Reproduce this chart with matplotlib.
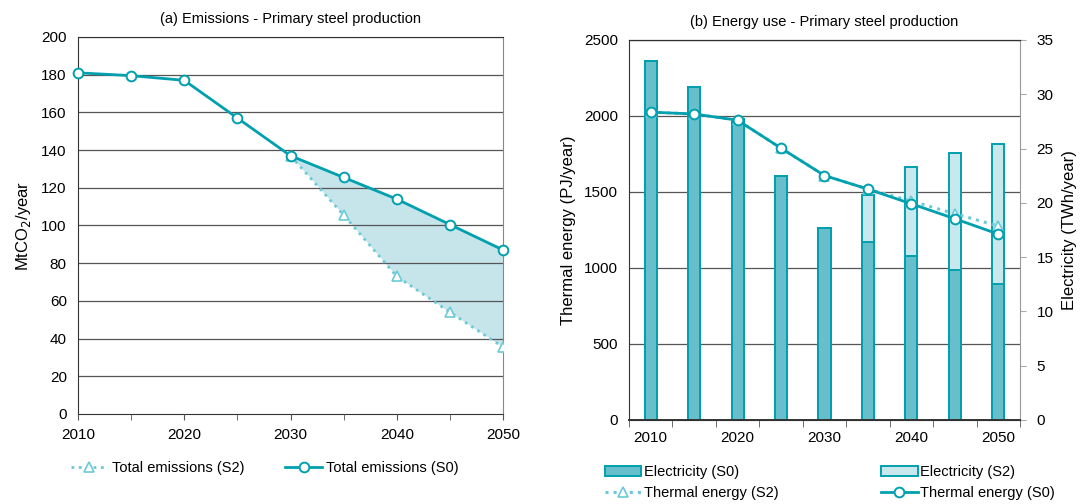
import matplotlib.pyplot as plt
import numpy as np

plt.rcParams['font.family'] = ['Liberation Sans', 'DejaVu Sans']

years = [2010, 2015, 2020, 2025, 2030, 2035, 2040, 2045, 2050]

# (a) emissions, MtCO2/year
emis_s0 = [181, 179.5, 177, 157, 137, 125.5, 114, 100.5, 87]
years_s2 = [2030, 2035, 2040, 2045, 2050]
emis_s2 = [137, 105.5, 73, 54, 35.5]

# (b) thermal energy, PJ/year
therm_s0 = [2025, 2013, 1972, 1788, 1608, 1519, 1422, 1324, 1223]
therm_s2 = [2025, 2013, 1972, 1788, 1608, 1519, 1440, 1357, 1276]
# electricity, TWh/year
elec_s0 = [33.1, 30.7, 27.7, 22.5, 17.7, 16.4, 15.1, 13.8, 12.5]
elec_s2 = [33.1, 30.7, 27.7, 22.5, 17.7, 20.7, 23.3, 24.6, 25.4]

dark = '#00a0ae'
light = '#6ccad6'
bar_s0 = '#66bfcb'
bar_s2 = '#c8e8ee'
fillc = '#c5e5eb'
gridc = '#555555'

fig = plt.figure(figsize=(10.83, 5.04), dpi=100)

############## (a) Emissions ##############
ax = fig.add_axes([0.072, 0.1786, 0.3925, 0.748])
ax.fill_between(years_s2, emis_s2, emis_s0[4:], color=fillc, lw=0, zorder=1)
ax.set_axisbelow(False)
for v in range(20, 201, 20):
    ax.axhline(v, color=gridc, lw=0.9, zorder=1.5)
ax.plot(years_s2, emis_s2, color=light, ls=':', lw=2, marker='^', ms=7,
        mfc='white', mec=light, mew=1.2, zorder=3, label='Total emissions (S2)')
ax.plot(years, emis_s0, color=dark, lw=2, marker='o', ms=7,
        mfc='white', mec=dark, mew=1.4, zorder=4, label='Total emissions (S0)', clip_on=False)
ax.set_xlim(2010, 2050)
ax.set_ylim(0, 200)
ax.set_yticks(range(0, 201, 20))
ax.set_xticks(range(2010, 2051, 10))
ax.set_xticks(range(2010, 2051, 5), minor=True)
ax.tick_params(axis='y', length=0, labelsize=11, pad=8)
ax.tick_params(axis='x', which='both', length=4, color=gridc, labelsize=11, pad=6, direction='out')
for s in ['left', 'bottom']:
    ax.spines[s].set_color('#333333')
ax.spines['right'].set_color('#888888')
ax.spines['top'].set_color('#333333')
ax.set_ylabel('MtCO$_2$/year', fontsize=12, labelpad=6)
ax.set_title('(a) Emissions - Primary steel production', fontsize=10.5, pad=10)
ax.legend(loc='upper center', bbox_to_anchor=(0.44, -0.09), ncol=2, frameon=False,
          fontsize=10.5, handlelength=2.5, columnspacing=2.8, handletextpad=0.3)

############## (b) Energy use ##############
bx = fig.add_axes([0.5808, 0.1667, 0.361, 0.754])
bx2 = bx.twinx()
# lines on bx drawn above bars on bx2
bx.set_zorder(bx2.get_zorder() + 1)
bx.patch.set_visible(False)

for v in range(500, 2501, 500):
    bx2.axhline(v * 35 / 2500, color=gridc, lw=0.9, zorder=0.5)
bx2.bar(years, elec_s2, width=1.4, color=bar_s2, edgecolor=dark, lw=1.4, zorder=2,
        label='Electricity (S2)')
bx2.bar(years, elec_s0, width=1.4, color=bar_s0, edgecolor=dark, lw=1.4, zorder=3,
        label='Electricity (S0)')

bx.plot(years, therm_s2, color=light, ls=':', lw=2.2, marker='^', ms=7,
        mfc='white', mec=light, mew=1.2, zorder=3, label='Thermal energy (S2)')
bx.plot(years, therm_s0, color=dark, lw=2, marker='o', ms=7,
        mfc='white', mec=dark, mew=1.4, zorder=4, label='Thermal energy (S0)')

bx.set_xlim(2007.5, 2052.5)
bx.set_ylim(0, 2500)
bx2.set_ylim(0, 35)
bx.set_yticks(range(0, 2501, 500))
bx2.set_yticks(range(0, 36, 5))
bx.set_xticks(range(2010, 2051, 10))
bx.set_xticks(np.arange(2007.5, 2053, 5), minor=True)
bx.tick_params(axis='x', which='major', length=0, labelsize=11, pad=8)
bx.tick_params(axis='x', which='minor', length=5, color=gridc, direction='out')
bx.tick_params(axis='y', length=0, labelsize=11, pad=8)
bx2.tick_params(axis='y', length=4, color='#aaaaaa', labelsize=11, pad=8)
bx2.spines['right'].set_color('#999999')
bx.spines['right'].set_visible(False)
bx.spines['left'].set_color('#333333')
bx.spines['bottom'].set_color('#333333')
bx.spines['bottom'].set_linewidth(1.4)
bx.spines['top'].set_color('#333333')
bx2.spines['left'].set_visible(False)
bx.set_ylabel('Thermal energy (PJ/year)', fontsize=12, labelpad=6)
bx2.set_ylabel('Electricity (TWh/year)', fontsize=12, labelpad=6)
bx.set_title('(b) Energy use - Primary steel production', fontsize=10.5, pad=10)

h1, l1 = bx2.get_legend_handles_labels()
h2, l2 = bx.get_legend_handles_labels()
handles = [h1[1], h2[0], h1[0], h2[1]]
labels = [l1[1], l2[0], l1[0], l2[1]]
bx.legend(handles, labels, loc='upper left', bbox_to_anchor=(-0.095, -0.085), ncol=2,
          frameon=False, fontsize=10.5, handlelength=2.5, columnspacing=7.0,
          handletextpad=0.2, labelspacing=0.45)

plt.savefig('out.png', dpi=100)
